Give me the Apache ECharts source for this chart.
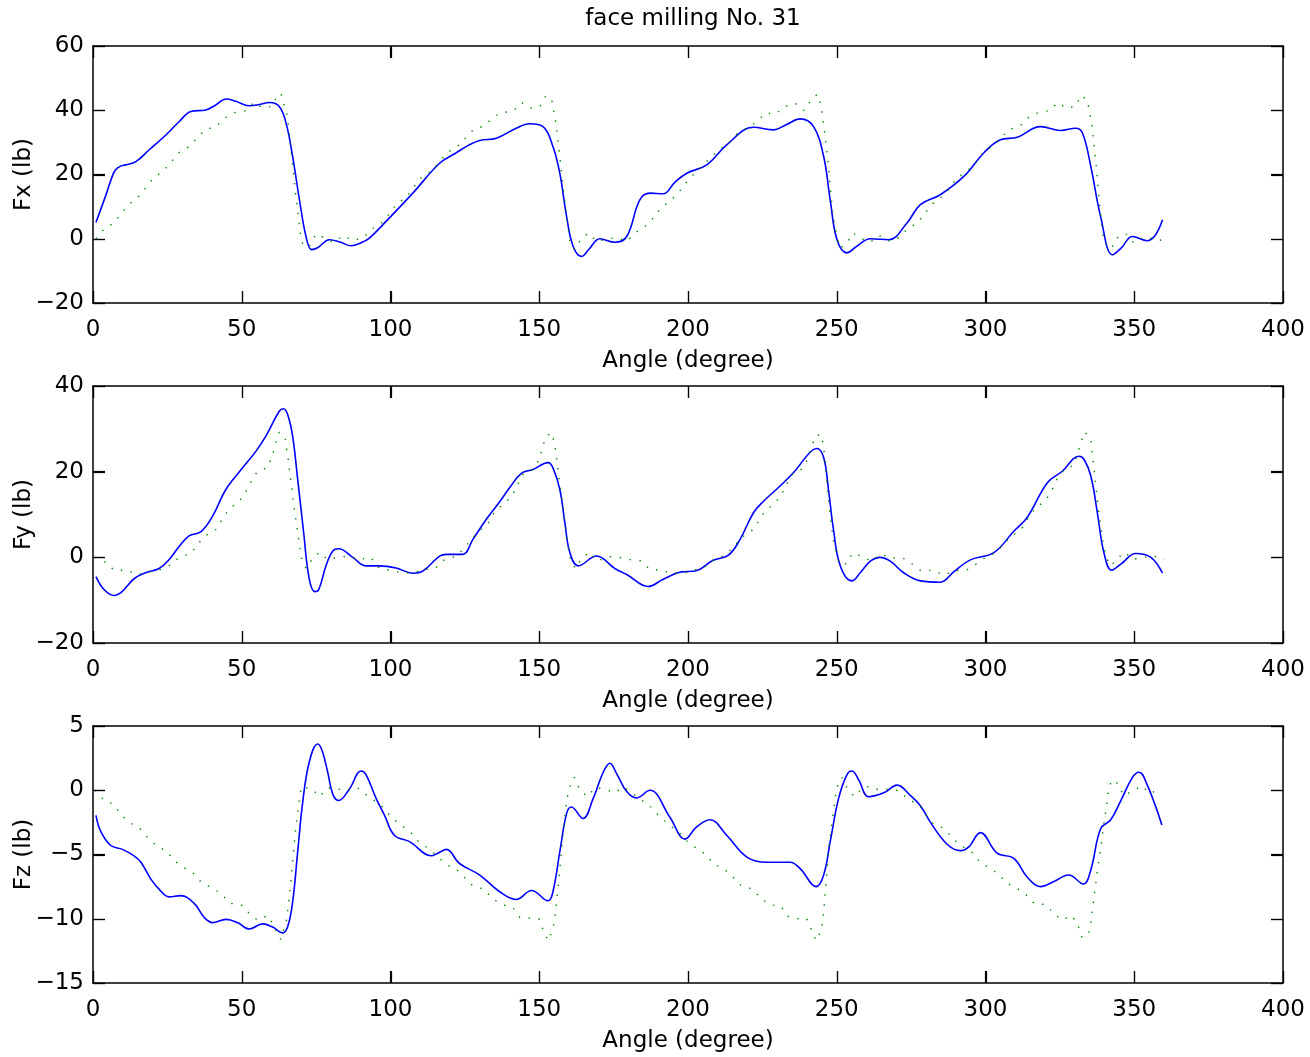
<!DOCTYPE html>
<html>
<head>
<meta charset="utf-8">
<title>face milling No. 31</title>
<script src="https://cdn.jsdelivr.net/npm/echarts@6/dist/echarts.min.js"></script>
<style>
  html, body { margin: 0; padding: 0; background: #fff; }
  #chart { width: 1310px; height: 1057px; }
</style>
</head>
<body>
<div id="chart"></div>
<script>
const TITLE = 'face milling No. 31'
const X_NAME = 'Angle (degree)'
const xTicks = [0, 400, 50]
const panelNames = ['Fx (lb)', 'Fy (lb)', 'Fz (lb)']
const yTicks = [[-20, 60, 20], [-20, 40, 20], [-15, 5, 5]]

// measured force (solid blue), [angle, lb]
const fxMeasured = [
  [1, 5.1], [4.3, 13.5], [6.5, 19.5], [7.6, 21.5], [9.3, 22.6], [11, 23], [14.4, 24], [18.9, 27.7],
  [24.5, 32.3], [29, 36.5], [32.9, 39.6], [37.9, 40.1], [41, 41.5], [44.7, 43.5], [48, 42.8],
  [52.5, 41.4], [56, 41.8], [59.3, 42.4], [62.6, 41.2], [64.9, 36], [67.1, 25.6], [69.4, 12.1],
  [71.6, 0.7], [73.5, -3.4], [75.5, -2.8], [79.5, -0.3], [83, -1], [86.8, -2.2], [90, -1.3],
  [92.9, 0.2], [98.5, 5.4], [107.5, 14.2], [116.5, 23.5], [122, 26.7], [126, 29], [130, 30.6],
  [135.6, 31.3], [142.2, 34.4], [146.8, 35.8], [151.3, 34.9], [154.6, 28.7], [156.9, 20.4],
  [159.2, 6.9], [161.4, -2.4], [164.2, -5.5], [166.5, -3.5], [170.4, 0], [175.4, -1.1],
  [179.4, 0.7], [183.8, 12.1], [187.2, 14.2], [191.7, 14], [195.5, 17.5], [199.6, 20.4],
  [206.3, 23], [213, 29.2], [222, 34.7], [228.7, 33.9], [233, 35.5], [237.7, 37.3], [242.2, 34.9],
  [245.6, 25.6], [247.8, 12.1], [250.1, -0.3], [253.4, -4.4], [256.5, -2.5], [261.3, 0],
  [267.5, -0.3], [273.6, 4.9], [278.1, 10.6], [284.8, 13.7], [292.7, 19.4], [299.4, 26.7],
  [305, 30.8], [310.7, 31.6], [318.5, 34.9], [325.3, 33.7], [330.3, 34.4], [332.6, 32.9],
  [335.4, 22.5], [338.7, 6.9], [342.7, -5], [345.5, -3], [349.4, 0.7], [354.4, -0.6], [357, 1],
  [359.5, 5.9]
]
const fyMeasured = [
  [1, -4.5], [3.7, -7.5], [7.1, -8.9], [9.9, -7.9], [13.8, -5], [17.7, -3.6], [22.2, -2.6],
  [25.6, -0.5], [29, 2.6], [32.3, 5], [36.3, 6], [40.2, 9.6], [44.7, 15.9], [50.3, 20.9],
  [54.8, 24.8], [58.1, 28.3], [62.6, 34.1], [64, 34.7], [65.4, 33.4], [67.1, 28.3], [68.8, 18.2],
  [70.7, 6.5], [72.7, -5.1], [74.6, -8], [75.9, -7.5], [78.3, -2], [80.6, 1.5], [82.6, 2],
  [87.3, 0], [91.8, -2], [96.3, -2], [101.9, -2.5], [107.5, -3.7], [110.9, -3.2], [116.5, 0.3],
  [118.8, 0.7], [124.3, 0.7], [127.7, 4.2], [132.2, 8.9], [136.7, 13], [140.1, 16.3], [144, 19.6],
  [147.9, 20.5], [153, 22.1], [154.6, 20.9], [156.9, 15.9], [158.6, 8.1], [160.3, 1.1],
  [163.1, -2], [169.3, 0.3], [175.4, -2.6], [179.4, -4], [186.6, -6.8], [191.7, -5.1],
  [197.9, -3.4], [202.4, -3.2], [208.5, -0.7], [213.6, 0.5], [217.5, 4.2], [222, 10.4],
  [225.4, 13.1], [230.4, 16.3], [235.5, 19.8], [241.1, 24.6], [243.3, 25.4], [245.6, 23.3],
  [247.2, 15.9], [248.9, 6.5], [251.2, -2], [255.1, -5.5], [257.9, -3.6], [261.3, -0.9],
  [264.6, 0], [268, -0.9], [272.5, -3.6], [278.1, -5.5], [284.8, -5.8], [289.3, -3.4],
  [294.9, -0.6], [302.8, 1.1], [309.5, 6.1], [314, 9.3], [320.8, 17.4], [325.8, 20.1],
  [331.4, 23.6], [333.1, 22.9], [335.4, 19], [337.6, 10.4], [339.8, 1.1], [342.4, -3],
  [345.5, -1.6], [350.5, 0.9], [355.6, 0], [359.5, -3.7]
]
const fzMeasured = [
  [1, -1.95], [2.6, -3.2], [6, -4.3], [9.9, -4.6], [13.8, -5.1], [16.1, -5.6], [19.4, -6.9],
  [22.2, -7.7], [25.6, -8.3], [29.5, -8.2], [34, -8.8], [37.4, -9.9], [40.2, -10.3],
  [44.7, -10.05], [48.6, -10.3], [52.5, -10.8], [57, -10.4], [60.4, -10.65], [63.7, -11.1],
  [65.4, -10.65], [67.1, -8.7], [68.8, -4.8], [70.5, -0.9], [72.7, 2.2], [75.5, 3.6], [77, 3.1],
  [78.9, 1.4], [80.6, -0.3], [82.6, -0.8], [86.2, 0.1], [90.1, 1.5], [91.8, 1.2], [95.2, -0.65],
  [98, -1.95], [101.3, -3.5], [106.4, -4], [113.7, -5.1], [115.9, -4.9], [118.8, -4.6],
  [123.2, -5.7], [130, -6.6], [136.7, -7.9], [142.3, -8.5], [147.4, -7.8], [153, -8.6],
  [154.6, -7.9], [156.9, -4.8], [159.2, -1.8], [160.8, -1.3], [164.7, -2.2], [168.1, -0.65],
  [171.5, 1.4], [173.7, 2.1], [176, 1.3], [179.4, -0.1], [182.7, -0.6], [187.2, 0],
  [193.9, -2.1], [199, -3.8], [202.9, -2.85], [207.4, -2.3], [213, -3.5], [219.8, -5.2],
  [226.5, -5.6], [234.3, -5.6], [237.7, -6.1], [243.1, -7.5], [245.6, -6.6], [247.8, -4],
  [250.6, -0.65], [253.4, 1.2], [255.1, 1.5], [257.4, 0.8], [260.7, -0.5], [265.8, -0.2],
  [270.3, 0.4], [274.7, -0.4], [278.1, -1.2], [281.5, -2.5], [287.1, -4.2], [291.6, -4.7],
  [294.4, -4.4], [298.3, -3.3], [303.9, -4.9], [309.5, -5.3], [314, -6.75], [318.5, -7.5],
  [323, -7.1], [328, -6.6], [332.9, -7.3], [335.4, -6.2], [338.7, -3], [342.1, -2.3],
  [345.5, -0.8], [349.4, 1], [351.6, 1.4], [354.4, 0.4], [359.3, -2.7]
]

// predicted force (dotted green), [angle, lb]
const fxPredicted = [
  [1, 0], [3.7, 3], [7.1, 5], [9.6, 8], [12.2, 10.8], [15.2, 13], [17.7, 15.8], [20.3, 18.9],
  [23.4, 20.9], [26.1, 23.7], [28.7, 26.7], [32, 28.5], [34.8, 31.1], [37.6, 33.9], [41.3, 34.9],
  [44.4, 37.6], [47.7, 39.3], [51.3, 39.8], [53.9, 42.4], [57.3, 40.7], [60, 41.2], [62, 44.5],
  [63.1, 45.3], [64.2, 41.9], [65.3, 38.3], [66.2, 30.8], [67.9, 15.8], [69.8, 0.9], [70.7, -2.4],
  [72.9, -2.1], [75, 1.5], [78, 0.2], [81, -1.1], [84.1, 1], [87.5, -0.6], [90.9, 0.4], [93.9, 3.1],
  [97, 4.9], [99.8, 8], [102.1, 10.9], [105.4, 13], [107.7, 16], [110.2, 18.9], [113.5, 20.9],
  [116.3, 23.7], [118.9, 26.7], [122.2, 28.5], [125, 31.1], [127.8, 33.9], [131.4, 35.1],
  [134.4, 37.7], [136.8, 39.1], [141.3, 39.8], [144.1, 42.4], [147.5, 40.6], [150.3, 41.2],
  [152.2, 44.5], [154.2, 43.2], [155.6, 36], [157, 24.8], [158.3, 13.7], [159.8, 2.8],
  [160.3, -1], [162, -3.4], [163.9, -0.3], [166.5, 1.8], [169.3, -0.8], [172.7, -0.1], [176, 0.4],
  [179.4, -0.8], [182.2, 1.8], [185.5, 3.8], [188.3, 6.4], [190.8, 9.5], [194, 11.8],
  [196.7, 14.2], [199.2, 17.3], [201.8, 19.9], [204.6, 22.5], [207.4, 25.1], [210.4, 27.7],
  [213.6, 29.8], [216.4, 32.6], [219.7, 34.4], [223.1, 36.3], [225.9, 39.1], [229.6, 38.9],
  [232.6, 41.2], [236, 42.2], [239, 39.9], [241.2, 42.9], [243.5, 45], [244.7, 41.4],
  [245.8, 34.1], [247.2, 23], [248.6, 8.2], [250, 0.7], [251.1, -2.9], [253.3, -1.6],
  [255.4, 1.8], [258.4, 0], [261.2, -1.1], [264.2, 1], [267.9, -0.8], [271.1, 0.4], [273.7, 3.1],
  [277.3, 5.1], [279.7, 8], [282.2, 10.9], [285.6, 13.2], [288.1, 16], [290.3, 18.9],
  [293.7, 20.9], [296.5, 23.5], [299.1, 26.7], [302.1, 28.7], [305.1, 31.2], [307.7, 33.9],
  [311.6, 35.1], [314.4, 37.7], [317.8, 39.3], [321.5, 39.9], [324.3, 42.4], [327.3, 40.6],
  [330.4, 41.3], [332.1, 44.6], [334.2, 43.2], [335.7, 36], [337.4, 20.9], [338.8, 6.2],
  [339.8, -0.8], [342.2, -3.2], [344.1, 0.2], [347.1, 1.6], [349.9, -1.3], [353, 0.5],
  [356.2, 0], [359.8, -0.6]
]
const fyPredicted = [
  [0.7, 0], [4.4, -1.2], [7.1, -3], [11, -3], [14.9, -4], [18.3, -3.5], [22.2, -3], [25.8, -1.9],
  [29, 0], [32.9, 0.9], [35.1, 3], [37.9, 5.1], [41.3, 6.5], [43.5, 8.9], [45.8, 11.4],
  [48.9, 12.9], [51.2, 15.1], [53.1, 17.6], [55.1, 19.9], [58.7, 21], [60.2, 23.6], [61.3, 26.4],
  [62.6, 29.2], [64.6, 27.7], [65.4, 24], [67.7, 11.2], [70, 0], [71.6, -2.6], [73.6, -0.5],
  [76.1, 1.2], [78.9, -0.5], [82.3, 0], [86, 0.3], [89.6, -0.5], [93.3, 0], [96.3, -2.6],
  [99.7, -3], [103.6, -3.6], [107.5, -3.6], [111.5, -2.8], [115, -2.6], [118, -0.6], [122, 0.2],
  [124.8, 2.1], [127.3, 4.4], [132.9, 8.1], [134.8, 10.4], [137.8, 12.4], [140.8, 14.2],
  [142.5, 16.6], [144.2, 19.2], [147.6, 20.5], [149.9, 22.7], [151, 25.4], [152.2, 28.1],
  [154.1, 29.1], [155.2, 26.4], [157.8, 12.4], [159.9, 1.5], [160.7, -1.1], [162.2, -2.6],
  [164.2, -0.2], [167, 1.2], [169.7, -0.9], [173, 0.2], [176.8, 0], [180.4, -0.5], [184.1, -0.8],
  [187.1, -2.8], [190.8, -3], [194.4, -3.7], [198.3, -3.7], [202, -3], [205.7, -2.2],
  [208.7, -0.5], [212.6, 0.5], [215.4, 2.5], [217.9, 4.6], [221.3, 6.1], [223.5, 8.2],
  [225.8, 10.7], [228.7, 12.4], [231.4, 14.5], [233.1, 17], [235.1, 19.4], [238.5, 20.7],
  [240.4, 23.1], [241.5, 25.6], [242.8, 28.3], [244.7, 28.7], [245.6, 26], [247.4, 12.1],
  [248.9, 3.8], [250.9, -1.6], [253.4, -1.5], [255.2, 0.9], [258.4, 0.3], [261.5, -0.9],
  [264.9, 0.8], [268.2, -0.2], [271.9, 0], [275.4, -1.6], [278.4, -3.2], [282.4, -3],
  [286, -4.2], [289.6, -3.1], [293.6, -3], [297, -1.5], [300.4, 0.2], [303.7, 1.1], [306.4, 3.4],
  [309.4, 5.2], [312.4, 6.9], [314.4, 9.3], [316.9, 11.6], [320, 13.1], [322.2, 15.5],
  [323.8, 18], [326.4, 20.4], [329.6, 21.5], [330.9, 24], [332, 26.8], [333.4, 29.3],
  [335.4, 27.6], [338, 10.8], [339.7, 2.6], [340.5, 0], [342.2, -2], [344.2, -0.3],
  [346.9, 1.2], [349.5, -0.5], [353.1, 0], [356.6, 0.3], [360.2, -0.5]
]
const fzPredicted = [
  [0.7, 0], [3.4, -0.7], [6.9, -1.1], [9.4, -1.9], [12.2, -2.5], [15.8, -3], [18.4, -3.7],
  [21.2, -4.3], [24.8, -4.75], [27.4, -5.5], [30.5, -6], [33.9, -6.5], [36.5, -7.2], [40.1, -7.6],
  [43.3, -8.1], [45.9, -8.8], [49.8, -8.9], [52.4, -9.55], [55.2, -10.1], [58.8, -9.75],
  [60.7, -10.5], [62.2, -11.35], [63.1, -11.6], [65.2, -9.95], [66.9, -6.2], [67.9, -3.45],
  [69.4, -0.65], [70, 0.25], [73.7, 0.1], [76.1, -0.5], [78.9, 0.2], [81.9, 0.1], [85.6, 0],
  [88.6, 0.25], [91.5, -0.3], [94.9, -0.85], [97.9, -1.4], [100.4, -2.15], [103.5, -2.7],
  [106.7, -3.25], [109.4, -4], [112.5, -4.5], [115.7, -5.1], [118.4, -5.75], [122.1, -6.15],
  [124.9, -6.8], [127.7, -7.45], [131.4, -7.7], [134.1, -8.4], [137.5, -8.9], [141, -9.1],
  [143.5, -9.9], [146.7, -9.95], [149.9, -10], [151.2, -10.8], [153, -11.7], [154.5, -10.9],
  [155.2, -10], [156.5, -7.2], [157.6, -4.4], [158.8, -1.6], [159.3, -0.7], [160.1, 0.2],
  [161.8, 1], [163.5, 0.1], [166.1, -0.5], [168.8, 0.2], [172, 0.1], [175.3, -0.2], [178.5, 0.25],
  [181.7, -0.3], [184.9, -0.85], [188.1, -1.4], [190.6, -2.1], [193.7, -2.7], [196.8, -3.25],
  [199.6, -3.95], [202.7, -4.5], [206, -5], [208.6, -5.75], [212, -6.1], [215.1, -6.75],
  [217.8, -7.4], [221.7, -7.7], [224.3, -8.4], [227.5, -8.9], [231.3, -9.05], [233.5, -9.8],
  [236.7, -10], [239.8, -9.95], [241.4, -10.8], [243.1, -11.7], [244.8, -10.9], [245.4, -10],
  [246.4, -7.2], [247.4, -4.4], [248.9, -1.6], [249.4, -0.7], [250, 0.2], [251.7, 1],
  [253.4, 0.2], [255.9, -0.5], [258.7, 0.2], [261, 0.3], [264.5, 0], [267.8, 0.1], [271.1, -0.05],
  [273.9, -0.7], [277.6, -1.1], [280, -1.9], [282.4, -2.6], [286.3, -3], [288.8, -3.7],
  [291.6, -4.3], [295.2, -4.75], [297.8, -5.5], [300.9, -6], [304.3, -6.5], [306.9, -7.2],
  [310.4, -7.6], [313.5, -8.1], [316.3, -8.8], [320.2, -8.9], [322.8, -9.55], [325.6, -10.1],
  [329, -9.75], [331.1, -10.5], [332.3, -11.4], [334.5, -11.3], [335.4, -10.3], [336.4, -8.5],
  [337.4, -6.6], [338.6, -4.75], [339.6, -2.9], [340.8, -1.05], [341.2, -0.1], [342.4, 0.8],
  [344.6, 0.5], [346.4, -0.4], [349.2, -0.1], [352.5, 0.35], [355.3, -0.25], [358.8, 0.1]
]

const measured = [fxMeasured, fyMeasured, fzMeasured]
const predicted = [fxPredicted, fyPredicted, fzPredicted]

const FONT = 'DejaVu Sans'
const FS = 23
const TICK = 12
const gridTops = [46, 386, 726]
const minus = v => String(v).replace('-', '\u2212')
const steps = (a, b, s) => { const out = []; for (let v = a; v <= b + 1e-9; v += s) out.push(v); return out }

const textStyle = { color: '#000', fontFamily: FONT, fontSize: FS }
// each frame side sits "on zero" of a hidden helper axis whose zero is that edge
const frameLine = zeroOf => ({ show: true, onZero: true, onZeroAxisIndex: zeroOf, lineStyle: { color: '#000', width: 1.5 } })
const inTick = () => ({ show: true, inside: true, length: TICK, lineStyle: { color: '#000', width: 1.2 } })
const helper = (gridIndex, min, max) => ({ gridIndex, type: 'value', show: false, min, max })

const tickStyle = { stroke: '#000', lineWidth: 1.2 }
const seg = (x1, y1, x2, y2) => ({ type: 'line', shape: { x1, y1, x2, y2 }, style: tickStyle })
function xTickItem(params, api) {
  const cs = params.coordSys
  const x = Math.round(api.coord([api.value(0), api.value(1)])[0]) + 0.5
  const bottom = cs.y + cs.height
  return { type: 'group', children: [seg(x, bottom, x, bottom - TICK), seg(x, cs.y, x, cs.y + TICK)] }
}
function yTickItem(params, api) {
  const cs = params.coordSys
  const y = Math.round(api.coord([api.value(0), api.value(1)])[1]) + 0.5
  const right = cs.x + cs.width
  return { type: 'group', children: [seg(cs.x, y, cs.x + TICK, y), seg(right, y, right - TICK, y)] }
}

const grid = [], xAxis = [], yAxis = [], series = []
gridTops.forEach((top, i) => {
  grid.push({ left: 93, top, width: 1190, height: 257, outerBoundsMode: 'none' })
  const [ymin, ymax, yint] = yTicks[i]
  const xi = 3 * i, yi = 4 * i
  xAxis.push({
    gridIndex: i, type: 'value', position: 'bottom',
    min: xTicks[0], max: xTicks[1], interval: xTicks[2],
    axisLine: frameLine(yi + 2), axisTick: inTick(), splitLine: { show: false },
    axisLabel: { ...textStyle, margin: 16 },
    name: X_NAME, nameLocation: 'middle', nameGap: 47, nameMoveOverlap: false,
    nameTextStyle: textStyle
  }, {
    gridIndex: i, type: 'value', position: 'top',
    min: xTicks[0], max: xTicks[1], interval: xTicks[2],
    axisLine: frameLine(yi + 3), axisTick: inTick(), splitLine: { show: false },
    axisLabel: { show: false }
  }, helper(i, -1, 0))
  yAxis.push({
    gridIndex: i, type: 'value', position: 'left',
    min: ymin, max: ymax, interval: yint,
    axisLine: frameLine(xi), axisTick: inTick(), splitLine: { show: false },
    axisLabel: { ...textStyle, margin: 9, formatter: minus },
    name: panelNames[i], nameLocation: 'middle', nameGap: 57, nameRotate: 90, nameMoveOverlap: false,
    nameTextStyle: textStyle
  }, {
    gridIndex: i, type: 'value', position: 'right',
    min: ymin, max: ymax, interval: yint,
    axisLine: frameLine(xi + 2), axisTick: inTick(), splitLine: { show: false },
    axisLabel: { show: false }
  }, helper(i, 0, 1), helper(i, -1, 0))
  series.push({
    type: 'line', xAxisIndex: xi, yAxisIndex: yi,
    data: measured[i], symbol: 'none', smooth: 0.4,
    lineStyle: { color: '#0000ff', width: 1.6 }
  }, {
    type: 'line', xAxisIndex: xi, yAxisIndex: yi,
    data: predicted[i], symbol: 'none',
    lineStyle: { color: '#008000', width: 1.4, type: [1.4, 8.6] }
  }, {
    type: 'custom', xAxisIndex: xi, yAxisIndex: yi, silent: true, z: 4,
    data: steps(...xTicks).map(v => [v, ymin]), renderItem: xTickItem
  }, {
    type: 'custom', xAxisIndex: xi, yAxisIndex: yi, silent: true, z: 4,
    data: steps(ymin, ymax, yint).map(v => [xTicks[0], v]), renderItem: yTickItem
  })
})

const chart = echarts.init(document.getElementById('chart'))
chart.setOption({
  animation: false,
  backgroundColor: '#fff',
  title: {
    text: TITLE, left: 688, top: 3, textAlign: 'center',
    textStyle: { ...textStyle, fontWeight: 'normal' }
  },
  grid, xAxis, yAxis, series
})
</script>
</body>
</html>
